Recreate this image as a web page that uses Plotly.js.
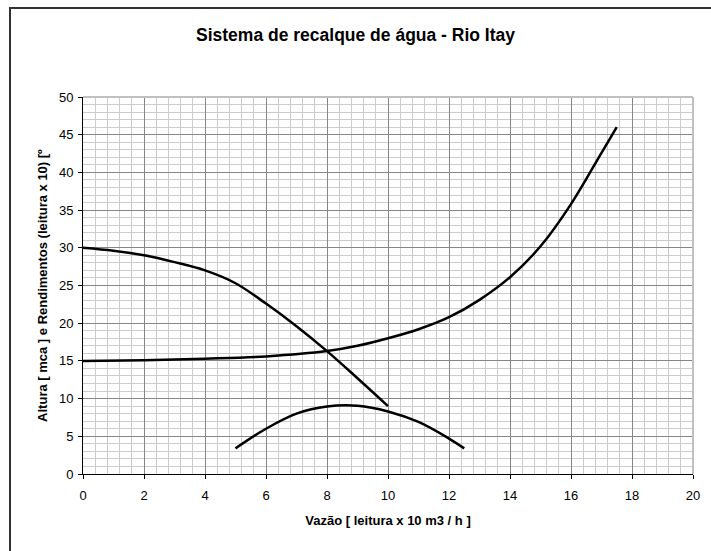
<!DOCTYPE html>
<html>
<head>
<meta charset="utf-8">
<script src="https://cdn.plot.ly/plotly-3.0.1.min.js"></script>
<style>
  html, body { margin: 0; padding: 0; background: #fff; overflow: hidden; }
  #chart { position: absolute; left: 0; top: 0; width: 711px; height: 551px; }
  #frame { position: absolute; left: 9px; top: 7px; width: 720px; height: 560px;
           border-left: 2px solid #333; border-top: 2px solid #333; pointer-events: none; }
</style>
</head>
<body>
<div id="chart"></div>
<div id="frame"></div>
<script>
// Curva da bomba (altura manométrica)
const bombaX = [0, 1, 2, 3, 4, 5, 6, 7, 8, 9, 10];
const bombaY = [30, 29.6, 29.0, 28.1, 27.0, 25.3, 22.6, 19.6, 16.3, 12.7, 9];

// Curva do sistema
const sistemaX = [0, 2, 4, 6, 8, 9, 10, 11, 12, 13, 14, 15, 16, 17, 17.5];
const sistemaY = [15, 15.1, 15.3, 15.6, 16.3, 17, 18, 19.2, 20.8, 23.1, 26.1, 30.2, 35.8, 42.6, 46];

// Curva de rendimento
const rendX = [5, 6, 7, 8, 9, 10, 11, 12, 12.5];
const rendY = [3.4, 6.0, 8.0, 8.95, 9.05, 8.3, 6.9, 4.7, 3.4];

const xTicks = [0, 2, 4, 6, 8, 10, 12, 14, 16, 18, 20];
const yTicks = [0, 5, 10, 15, 20, 25, 30, 35, 40, 45, 50];

const lineStyle = { color: '#000', width: 2.5, shape: 'spline', smoothing: 1 };

const traces = [
  { x: bombaX, y: bombaY, mode: 'lines', line: lineStyle, hoverinfo: 'skip' },
  { x: sistemaX, y: sistemaY, mode: 'lines', line: lineStyle, hoverinfo: 'skip' },
  { x: rendX, y: rendY, mode: 'lines', line: lineStyle, hoverinfo: 'skip' }
];

const font = 'Liberation Sans, Arial, sans-serif';

const layout = {
  width: 711, height: 551,
  margin: { l: 83, r: 18, t: 97, b: 77 },
  paper_bgcolor: '#fff', plot_bgcolor: '#fff',
  showlegend: false,
  font: { family: font, size: 13, color: '#000' },
  title: {
    text: '<b>Sistema de recalque de água - Rio Itay</b>',
    font: { family: font, size: 17.5, color: '#000' },
    xref: 'container', x: 0.5, xanchor: 'center',
    yref: 'container', y: 1 - 35 / 551, yanchor: 'middle'
  },
  xaxis: {
    range: [0, 20], tickvals: xTicks, ticktext: xTicks.map(String),
    showline: true, linecolor: '#000', linewidth: 1,
    ticks: 'outside', ticklen: 4, tickcolor: '#000', tickwidth: 1,
    ticklabelstandoff: 5,
    showgrid: true, gridcolor: '#868686', gridwidth: 1,
    minor: { dtick: 0.4, showgrid: true, gridcolor: '#cccccc', gridwidth: 1, ticks: '' },
    zeroline: false, fixedrange: true,
    tickfont: { family: font, size: 13, color: '#000' },
    title: { text: '<b>Vazão [ leitura x 10 m3 / h ]</b>', font: { family: font, size: 13, color: '#000' }, standoff: 14 }
  },
  yaxis: {
    range: [0, 50], tickvals: yTicks, ticktext: yTicks.map(String),
    showline: true, linecolor: '#000', linewidth: 1,
    ticks: 'outside', ticklen: 4, tickcolor: '#000', tickwidth: 1,
    ticklabelstandoff: 2,
    showgrid: true, gridcolor: '#868686', gridwidth: 1,
    minor: { dtick: 1, showgrid: true, gridcolor: '#cccccc', gridwidth: 1, ticks: '' },
    zeroline: false, fixedrange: true,
    tickfont: { family: font, size: 13, color: '#000' },
    title: { text: '<b>Altura [ mca ] e Rendimentos (leitura x 10) [º</b>', font: { family: font, size: 13, color: '#000' }, standoff: 8 }
  },
  shapes: [
    { type: 'line', xref: 'paper', yref: 'paper', x0: 0, x1: 1, y0: 1, y1: 1, line: { color: '#c0c0c0', width: 2 } },
    { type: 'line', xref: 'paper', yref: 'paper', x0: 1, x1: 1, y0: 0, y1: 1, line: { color: '#c0c0c0', width: 2 } }
  ]
};

Plotly.newPlot('chart', traces, layout, { displayModeBar: false, staticPlot: true });
</script>
</body>
</html>
